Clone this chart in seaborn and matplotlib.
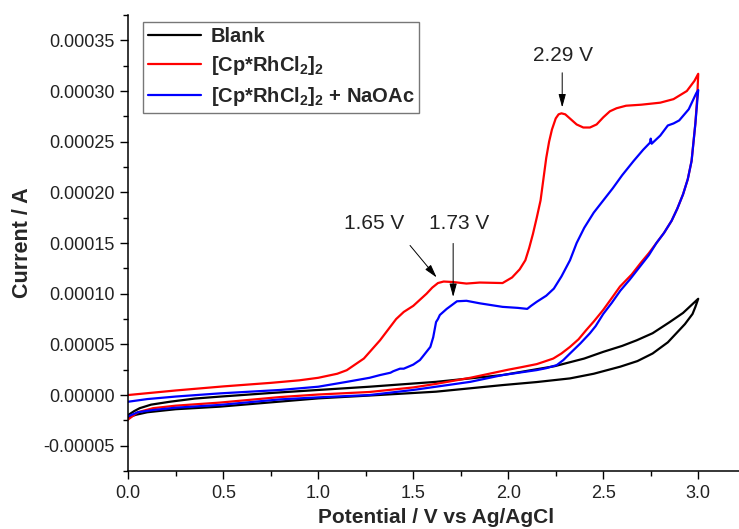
import matplotlib
matplotlib.use("Agg")
import matplotlib.pyplot as plt
import numpy as np
import pandas as pd
import seaborn as sns
from matplotlib.ticker import MultipleLocator, FuncFormatter

# ---------------- data (current in microamps) ----------------
blank_fwd_v = [0.00, 0.03, 0.06, 0.12, 0.22, 0.35, 0.48, 0.75, 1.00, 1.27, 1.62, 1.97, 2.245, 2.40, 2.50,
               2.60, 2.676, 2.76, 2.85, 2.92, 2.96, 3.00]
blank_fwd_i = [-19.7, -16, -13, -9.5, -6.6, -3.5, -1.6, 2, 5, 8.2, 13, 19.7, 28.5, 36, 42.6,
               48.5, 54, 61, 72, 81, 88, 95]
blank_rev_v = [3.00, 2.985, 2.97, 2.93, 2.90, 2.84, 2.76, 2.68, 2.59, 2.45, 2.325, 2.15, 1.97, 1.62, 1.27,
               1.00, 0.48, 0.25, 0.10, 0.04, 0.00]
blank_rev_i = [95, 87, 80, 70, 64, 52, 41, 33.5, 28, 21, 16.4, 12.8, 9.8, 3.3, -0.5,
               -3.3, -11.5, -14, -17, -19.5, -22]

rh_fwd_v = [0.00, 0.25, 0.50, 0.75, 0.90, 1.00, 1.10, 1.15, 1.24, 1.325, 1.41, 1.45, 1.50,
            1.57, 1.60, 1.63, 1.66, 1.71, 1.78, 1.85, 1.97, 2.02, 2.06, 2.09, 2.11, 2.13, 2.15, 2.17,
            2.185, 2.20, 2.215, 2.23, 2.25, 2.265, 2.28, 2.30, 2.33, 2.36, 2.395, 2.43, 2.465, 2.50,
            2.535, 2.57, 2.62, 2.70, 2.80, 2.87, 2.94, 2.98, 3.00]
rh_fwd_i = [0, 4.5, 8.5, 12, 14.5, 17, 21, 24.5, 36, 54, 75, 82, 88,
            100, 106, 110.5, 112, 111.5, 110, 111, 110.5, 116, 124, 133, 145, 159, 175, 192,
            213, 234, 250, 262, 273, 277, 278, 277, 272, 267, 264, 264, 267, 274,
            280, 283, 285.5, 286.5, 288.5, 292, 300, 310, 317]
rh_rev_v = [3.00, 2.995, 2.985, 2.965, 2.945, 2.92, 2.89, 2.86, 2.82, 2.78, 2.74, 2.70, 2.65, 2.588,
            2.55, 2.50, 2.45, 2.41, 2.37, 2.325, 2.28, 2.237, 2.19, 2.15, 2.07, 2.00, 1.80, 1.62,
            1.50, 1.27, 1.00, 0.80, 0.48, 0.25, 0.13, 0.05, 0.00]
rh_rev_i = [317, 295, 268, 231, 213, 198, 184, 172, 160, 150, 140, 131, 119, 107,
            97, 84, 72.5, 64, 55, 47.5, 41, 36, 33, 30.5, 27.5, 25, 17, 11,
            7.5, 3, 0.5, -2, -7.5, -10.5, -13, -17, -24]

na_fwd_v = [0.00, 0.10, 0.25, 0.48, 0.80, 1.00, 1.15, 1.27, 1.325, 1.38, 1.395, 1.43, 1.45, 1.50, 1.535,
            1.55, 1.59, 1.605, 1.62, 1.63, 1.64, 1.676, 1.73, 1.78, 1.85, 1.97, 2.05, 2.10, 2.12, 2.15,
            2.20, 2.24, 2.28, 2.325, 2.36, 2.40, 2.45, 2.50, 2.55, 2.60, 2.66, 2.71, 2.746, 2.75, 2.755,
            2.80, 2.84, 2.87, 2.90, 2.95, 2.99, 3.00]
na_fwd_i = [-6.6, -4, -1.5, 1.6, 5, 8.2, 13, 17, 19.7, 22, 23.5, 26, 26, 30, 34.5,
            38, 47.5, 57, 72, 75, 79, 85, 92.5, 93, 90.5, 87, 86, 85, 88, 92,
            98, 105, 117, 133, 150, 165, 180, 192, 204, 217, 231, 242, 249, 253, 248,
            256, 266, 268, 271, 282, 298, 301]
na_rev_v = [3.00, 2.995, 2.985, 2.965, 2.945, 2.92, 2.89, 2.86, 2.82, 2.78, 2.74, 2.69, 2.64, 2.59,
            2.545, 2.50, 2.46, 2.43, 2.38, 2.325, 2.29, 2.255, 2.20, 2.15, 1.97, 1.80, 1.50, 1.27,
            1.00, 0.80, 0.48, 0.25, 0.13, 0.05, 0.00]
na_rev_i = [301, 290, 268, 231, 213, 198, 184, 172, 160, 150, 138, 126, 114, 103,
            91, 80, 68, 61, 51, 41, 34.5, 29.5, 26.5, 24.6, 19.7, 13, 5, 0,
            -2.3, -4.3, -9.8, -12.5, -14.8, -17, -21]

series_names = ["Blank", r"[Cp*RhCl$_2$]$_2$", r"[Cp*RhCl$_2$]$_2$ + NaOAc"]
series_colors = ["#000000", "#ff0000", "#0000ff"]

peak_labels = ["1.65 V", "1.73 V", "2.29 V"]
peak_text_v = [1.293, 1.744, 2.29]
peak_text_i = [168.8, 168.8, 334.6]
arrow_start_v = [1.483, 1.71, 2.284]
arrow_start_i = [147.6, 149.6, 318.0]
arrow_tip_v = [1.623, 1.71, 2.284]
arrow_tip_i = [116.0, 96.8, 283.8]

# ---------------- build table ----------------
frames = []
for name, fv, fi, rv, ri in [
    (series_names[0], blank_fwd_v, blank_fwd_i, blank_rev_v, blank_rev_i),
    (series_names[1], rh_fwd_v, rh_fwd_i, rh_rev_v, rh_rev_i),
    (series_names[2], na_fwd_v, na_fwd_i, na_rev_v, na_rev_i),
]:
    v = list(fv) + list(rv)
    cur = [c * 1e-6 for c in (list(fi) + list(ri))]
    frames.append(pd.DataFrame({"V": v, "I": cur, "series": name, "order": range(len(v))}))
df = pd.concat(frames, ignore_index=True)

# ---------------- style ----------------
sns.set_style("ticks")
plt.rcParams["font.family"] = ["Liberation Sans", "DejaVu Sans"]
plt.rcParams["mathtext.fontset"] = "custom"
plt.rcParams["mathtext.rm"] = "Liberation Sans"
plt.rcParams["mathtext.bf"] = "Liberation Sans:bold"
plt.rcParams["mathtext.default"] = "bf"

fig = plt.figure(figsize=(7.39, 5.29), dpi=100)
ax = fig.add_axes([0.1736, 0.1096, 0.8355, 0.862])

sns.lineplot(data=df, x="V", y="I", hue="series", hue_order=series_names,
             palette=series_colors, sort=False, estimator=None, units="series",
             lw=1.6, ax=ax, legend=True)
for ln in ax.get_lines():
    ln.set_solid_joinstyle("round")

ax.set_xlim(0, 3.25)
ax.set_ylim(-0.000075, 0.000375)
ax.xaxis.set_major_locator(MultipleLocator(0.5))
ax.xaxis.set_minor_locator(MultipleLocator(0.25))
ax.yaxis.set_major_locator(MultipleLocator(0.00005))
ax.yaxis.set_minor_locator(MultipleLocator(0.000025))
ax.xaxis.set_major_formatter(FuncFormatter(lambda v, p: f"{v:.1f}"))
ax.yaxis.set_major_formatter(FuncFormatter(lambda v, p: f"{v:.5f}" if abs(v) > 1e-12 else "0.00000"))

ax.tick_params(axis="both", which="major", direction="out", length=6, width=1.0,
               labelsize=13, pad=4, color="black", labelcolor="#222222")
ax.tick_params(axis="both", which="minor", direction="out", length=3.5, width=1.0, color="black")
for s in ["top", "right"]:
    ax.spines[s].set_visible(False)
for s in ["left", "bottom"]:
    ax.spines[s].set_linewidth(1.1)
    ax.spines[s].set_color("black")

ax.set_xlabel("Potential / V vs Ag/AgCl", fontsize=15, fontweight="bold")
ax.set_ylabel("Current / A", fontsize=15.5, fontweight="bold")
ax.xaxis.set_label_coords(0.4985, -0.080)
ax.yaxis.set_label_coords(-0.155, 0.5)

handles, labels = ax.get_legend_handles_labels()
leg = ax.legend(handles, labels, loc="upper left", bbox_to_anchor=(0.0243, 0.985),
                borderaxespad=0, frameon=True, fancybox=False, shadow=False,
                prop={"weight": "bold", "size": 14.5}, handlelength=2.6,
                handletextpad=0.5, borderpad=0.25, labelspacing=0.4)
leg.get_frame().set_edgecolor("#555555")
leg.get_frame().set_linewidth(1.0)
for ln in leg.get_lines():
    ln.set_linewidth(1.6)

for lab, tv, ti, sv, si, ev, ei in zip(peak_labels, peak_text_v, peak_text_i,
                                        arrow_start_v, arrow_start_i, arrow_tip_v, arrow_tip_i):
    ax.text(tv, ti * 1e-6, lab, ha="center", va="center", fontsize=15, color="#222222")
    ax.annotate("", xy=(ev, ei * 1e-6), xytext=(sv, si * 1e-6),
                arrowprops=dict(arrowstyle="-|>,head_length=0.8,head_width=0.22",
                                color="black", lw=0.7, shrinkA=0, shrinkB=0,
                                mutation_scale=10))

fig.savefig("out.png", dpi=100)
